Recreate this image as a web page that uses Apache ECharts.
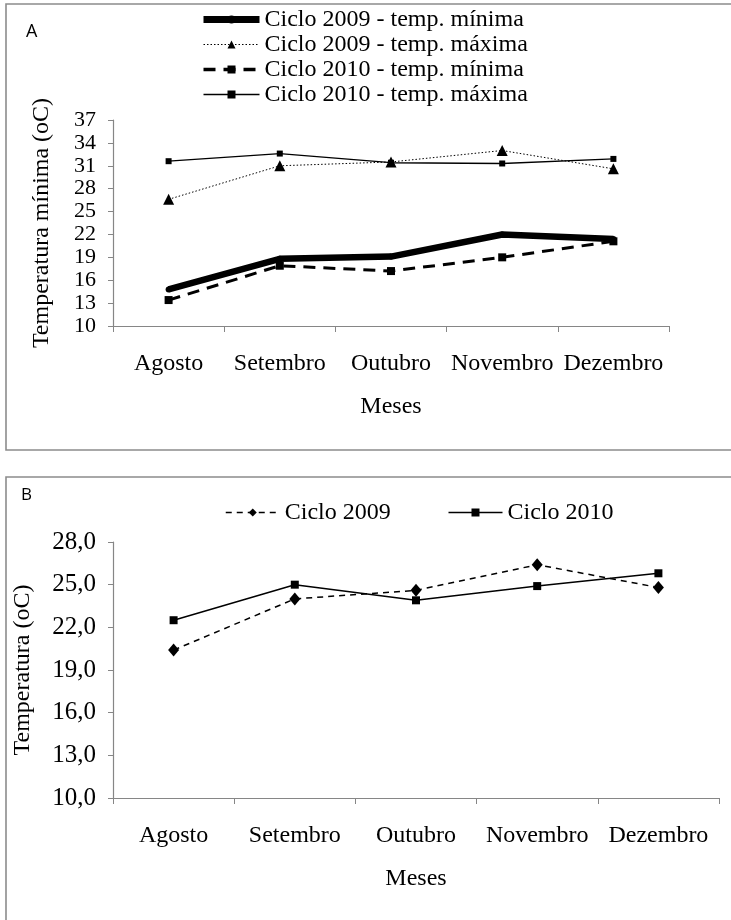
<!DOCTYPE html>
<html>
<head>
<meta charset="utf-8">
<script src="https://cdn.jsdelivr.net/npm/echarts@6/dist/echarts.min.js"></script>
<style>
html,body{margin:0;padding:0;background:#fff;}
#chart{width:731px;height:920px;}
</style>
</head>
<body>
<div id="chart"></div>
<script>
const months = ['Agosto', 'Setembro', 'Outubro', 'Novembro', 'Dezembro'];
// Panel A
const min2009 = [14.8, 18.8, 19.1, 22.0, 21.4];
const max2009 = [26.6, 31.0, 31.5, 33.0, 30.6];
const min2010 = [13.4, 17.9, 17.2, 19.0, 21.1];
const max2010 = [31.6, 32.6, 31.4, 31.3, 31.9];
// Panel B
const ciclo2009 = [20.4, 24.0, 24.6, 26.4, 24.8];
const ciclo2010 = [22.5, 25.0, 23.9, 24.9, 25.8];
// Axis ranges
const yA = { min: 10, max: 37, step: 3 };
const yB = { min: 10, max: 28, step: 3 };

const SERIF = 'Liberation Serif';
const AXC = '#868686';

function xAxis(gridIndex) {
  return {
    type: 'category', gridIndex, data: months, boundaryGap: true,
    axisLine: { lineStyle: { color: AXC, width: 1.2 } },
    axisTick: { show: true, length: 6, inside: false, lineStyle: { color: AXC } },
    axisLabel: { color: '#000', fontFamily: SERIF, fontSize: 24, margin: 26, interval: 0 },
    name: 'Meses', nameLocation: 'middle', nameGap: 69,
    nameTextStyle: { color: '#000', fontFamily: SERIF, fontSize: 24 }
  };
}
function yAxis(gridIndex, r, name, gap, fs, fmt) {
  return {
    type: 'value', gridIndex, min: r.min, max: r.max, interval: r.step,
    splitLine: { show: false },
    axisLine: { show: true, lineStyle: { color: AXC, width: 1.2 } },
    axisTick: { show: true, length: 5, lineStyle: { color: AXC } },
    axisLabel: { color: '#000', fontFamily: SERIF, fontSize: fs, margin: 17, formatter: fmt },
    name, nameLocation: 'middle', nameGap: gap, nameRotate: 90,
    nameTextStyle: { color: '#000', fontFamily: SERIF, fontSize: 24 }
  };
}

const option = {
  animation: false,
  backgroundColor: '#fff',
  graphic: [
    { type: 'rect', shape: { x: 6, y: 4, width: 800, height: 446 }, style: { fill: 'none', stroke: '#8c8c8c', lineWidth: 1.6 } },
    { type: 'rect', shape: { x: 6, y: 477, width: 800, height: 500 }, style: { fill: 'none', stroke: '#8c8c8c', lineWidth: 1.6 } },
    { type: 'text', left: 26, top: 23, style: { text: 'A', font: '18px "Open Sans"', fill: '#000' } },
    { type: 'text', left: 21, top: 487, style: { text: 'B', font: '17px "Open Sans"', fill: '#000' } }
  ],
  grid: [
    { left: 113, top: 120, width: 556, height: 206 },
    { left: 113, top: 542, width: 606, height: 256 }
  ],
  legend: [
    {
      orient: 'vertical', left: 195, top: 2, itemGap: 0, itemWidth: 56, itemHeight: 10,
      textStyle: { fontFamily: SERIF, fontSize: 24, color: '#000', lineHeight: 25 },
      data: [
        { name: 'Ciclo 2009 - temp. mínima', lineStyle: { width: 7, type: 'solid' } },
        { name: 'Ciclo 2009 - temp. máxima', lineStyle: { width: 1, type: [1.5, 2] } },
        { name: 'Ciclo 2010 - temp. mínima', lineStyle: { width: 3.5, type: [12, 8] } },
        { name: 'Ciclo 2010 - temp. máxima', lineStyle: { width: 1.3, type: 'solid' } }
      ]
    },
    {
      orient: 'horizontal', left: 220, top: 495, itemGap: 57, itemWidth: 54, itemHeight: 10,
      textStyle: { fontFamily: SERIF, fontSize: 24, color: '#000', lineHeight: 25 },
      data: [
        { name: 'Ciclo 2009', lineStyle: { width: 1.5, type: [6, 5] } },
        { name: 'Ciclo 2010', lineStyle: { width: 1.5, type: 'solid' } }
      ]
    }
  ],
  xAxis: [xAxis(0), xAxis(1)],
  yAxis: [
    yAxis(0, yA, 'Temperatura mínima (oC)', 59, 22, v => String(v)),
    yAxis(1, yB, 'Temperatura (oC)', 78, 25, v => v.toFixed(1).replace('.', ','))
  ],
  series: [
    { name: 'Ciclo 2009 - temp. mínima', type: 'line', xAxisIndex: 0, yAxisIndex: 0, data: min2009,
      symbol: 'circle', symbolSize: 6, itemStyle: { color: '#000' },
      lineStyle: { color: '#000', width: 6.5, type: 'solid' } },
    { name: 'Ciclo 2009 - temp. máxima', type: 'line', xAxisIndex: 0, yAxisIndex: 0, data: max2009,
      symbol: 'triangle', symbolSize: 11, itemStyle: { color: '#000' },
      lineStyle: { color: '#000', width: 1, type: [1.5, 2] } },
    { name: 'Ciclo 2010 - temp. mínima', type: 'line', xAxisIndex: 0, yAxisIndex: 0, data: min2010,
      symbol: 'rect', symbolSize: 8, itemStyle: { color: '#000' },
      lineStyle: { color: '#000', width: 3, type: [12, 8] } },
    { name: 'Ciclo 2010 - temp. máxima', type: 'line', xAxisIndex: 0, yAxisIndex: 0, data: max2010,
      symbol: 'rect', symbolSize: 6, itemStyle: { color: '#000' },
      lineStyle: { color: '#000', width: 1.3, type: 'solid' } },
    { name: 'Ciclo 2009', type: 'line', xAxisIndex: 1, yAxisIndex: 1, data: ciclo2009,
      symbol: 'diamond', symbolSize: [11, 13], itemStyle: { color: '#000' },
      lineStyle: { color: '#000', width: 1.5, type: [6, 5] } },
    { name: 'Ciclo 2010', type: 'line', xAxisIndex: 1, yAxisIndex: 1, data: ciclo2010,
      symbol: 'rect', symbolSize: 8, itemStyle: { color: '#000' },
      lineStyle: { color: '#000', width: 1.5, type: 'solid' } }
  ]
};

const chart = echarts.init(document.getElementById('chart'), null, { renderer: 'canvas' });
chart.setOption(option);
</script>
</body>
</html>
